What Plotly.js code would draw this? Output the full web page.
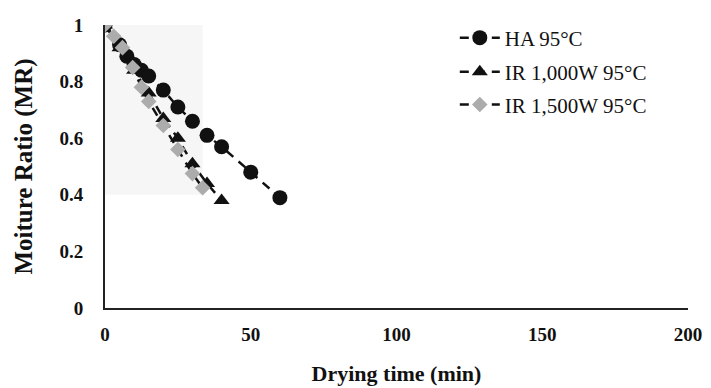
<!DOCTYPE html>
<html>
<head>
<meta charset="utf-8">
<script src="https://cdn.plot.ly/plotly-3.0.1.min.js"></script>
<style>html,body{margin:0;padding:0;background:#fff;}#chart{width:711px;height:388px;}</style>
</head>
<body>
<div id="chart"></div>
<script>
// Data
const haTime = [0, 5, 7.5, 10, 12.5, 15, 20, 25, 30, 35, 40, 50, 60];
const haMR   = [1, 0.93, 0.89, 0.86, 0.84, 0.82, 0.77, 0.71, 0.66, 0.61, 0.57, 0.48, 0.39];

const ir1000Time = [0, 5, 10, 15, 20, 25, 30, 35, 40];
const ir1000MR   = [1, 0.92, 0.84, 0.76, 0.67, 0.60, 0.51, 0.44, 0.38];

const ir1500Time = [0, 3, 6, 9.5, 12.5, 15, 20, 25, 30, 33.5];
const ir1500MR   = [1, 0.96, 0.92, 0.85, 0.78, 0.73, 0.645, 0.56, 0.475, 0.425];

const seriesNames = ['HA 95°C', 'IR 1,000W 95°C', 'IR 1,500W 95°C'];
const xTicks = [0, 50, 100, 150, 200];
const yTicks = [0, 0.2, 0.4, 0.6, 0.8, 1];
const yTickText = ['0', '0.2', '0.4', '0.6', '0.8', '1'];

const serif = 'Liberation Serif, Times New Roman, serif';
const dashLine = {color: '#111', width: 2.5, dash: '9px,7px'};

const traces = [
  {x: haTime, y: haMR, name: seriesNames[0], type: 'scatter', mode: 'lines+markers', legend: 'legend',
   line: dashLine, marker: {symbol: 'circle', size: 15, color: '#111'}},
  {x: ir1000Time, y: ir1000MR, name: seriesNames[1], type: 'scatter', mode: 'lines+markers', legend: 'legend2',
   line: dashLine, marker: {symbol: 'triangle-up', size: 14, color: '#111'}},
  {x: ir1500Time, y: ir1500MR, name: seriesNames[2], type: 'scatter', mode: 'lines+markers', legend: 'legend3',
   line: dashLine, marker: {symbol: 'diamond', size: 12, color: '#acacac'}}
];

const legendBase = (yy) => ({x: 0.6, y: yy, xanchor: 'left', yanchor: 'middle', bgcolor: 'rgba(0,0,0,0)',
  font: {family: serif, size: 21, color: '#111'}, itemwidth: 40});

const layout = {
  width: 711, height: 388,
  margin: {l: 105, r: 23, t: 25, b: 80},
  paper_bgcolor: '#fff', plot_bgcolor: '#fff',
  showlegend: true,
  legend: legendBase(0.954),
  legend2: legendBase(0.834),
  legend3: legendBase(0.718),
  xaxis: {range: [0, 200], tickvals: xTicks, ticktext: xTicks.map(v => '<b>' + v + '</b>'), showgrid: false, zeroline: false,
          showline: true, linecolor: '#222', linewidth: 2, ticks: '', ticklabelstandoff: 8,
          tickfont: {family: serif, size: 19, color: '#111', weight: 'bold'},
          title: {text: '<b>Drying time (min)</b>', font: {family: serif, size: 22, color: '#111'}, standoff: 22}},
  yaxis: {range: [0, 1], tickvals: yTicks, ticktext: yTickText.map(v => '<b>' + v + '</b>'), showgrid: false, zeroline: false,
          showline: true, linecolor: '#222', linewidth: 2, ticks: '', ticklabelstandoff: 16,
          tickfont: {family: serif, size: 19, color: '#111', weight: 'bold'},
          title: {text: '<b>Moiture Ratio (MR)</b>', font: {family: serif, size: 25, color: '#111'}, standoff: 20}},
  shapes: [{type: 'rect', xref: 'x', yref: 'y', x0: -1.5, x1: 33.5, y0: 0.4, y1: 1.06,
            fillcolor: '#f6f6f6', line: {width: 0}, layer: 'below'}]
};

Plotly.newPlot('chart', traces, layout, {displayModeBar: false, staticPlot: true});
</script>
</body>
</html>
